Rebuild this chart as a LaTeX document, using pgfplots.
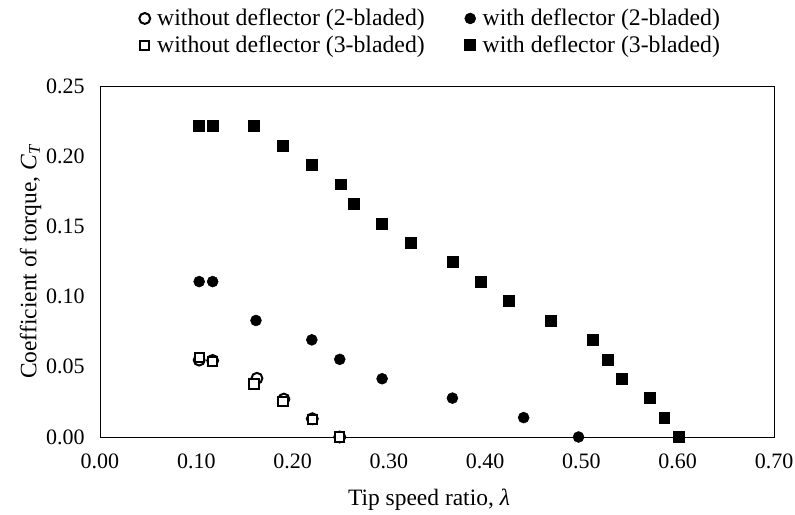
\documentclass[border=0pt]{standalone}
\usepackage{fontspec}
\setmainfont{Liberation Serif}
\usepackage{pgfplots}
\pgfplotsset{compat=1.18}

\begin{document}
\begin{tikzpicture}
% canvas of the reference (1px = 0.75pt)
\path[use as bounding box] (-75pt,-57.75pt) rectangle (521.25pt,327.75pt);
\begin{axis}[
  scale only axis,
  width=505.5pt, height=263.25pt,
  at={(0,0)}, anchor=south west,
  xmin=0, xmax=0.7, ymin=0, ymax=0.25,
  xtick={0,0.1,...,0.7}, ytick={0,0.05,...,0.25},
  major tick length=0pt,
  axis line style={black, line width=0.7pt},
  x axis line style={black!50},
  /pgf/number format/.cd, fixed, fixed zerofill, precision=2, assume math mode=true,
  /pgfplots/.cd,
  tick label style={font=\fontsize{16.5}{19}\selectfont},
  xticklabel style={yshift=-9pt},
  yticklabel style={xshift=-8pt},
  xlabel={Tip speed ratio, \textit{λ}},
  ylabel={Coefficient of torque, \textit{C}\textsubscript{\textit{T}}},
  every axis x label/.style={at={(axis description cs:0.5,0)}, anchor=center, xshift=-6pt, yshift=-47pt,
    font=\fontsize{17.6}{20}\selectfont},
  every axis y label/.style={at={(axis description cs:0,0.5)}, anchor=center, rotate=90, yshift=52pt,
    font=\fontsize{17.6}{20}\selectfont},
  legend columns=2,
  legend style={draw=none, fill=none, at={(axis description cs:0.93,1.235)}, anchor=north east,
    font=\fontsize{17.8}{20}\selectfont, row sep=2pt,
    /tikz/every even column/.append style={column sep=28pt}},
  legend cell align=left,
  legend image code/.code={\draw plot coordinates {(0.15cm,0cm)}; \path (0.4cm,0cm);},
]
% without deflector (2-bladed)
\addplot[only marks, mark=o, mark size=4.1pt, mark options={line width=1.5pt, fill=white, draw=black}] coordinates {
  (0.103,0.0548) (0.117,0.0545) (0.163,0.0418) (0.191,0.0270) (0.2205,0.0130) (0.249,0.0000)
};
\addlegendentry{without deflector (2-bladed)}
% with deflector (2-bladed)
\addplot[only marks, mark=*, mark size=4.1pt, mark options={fill=black, draw=black}] coordinates {
  (0.103,0.1107) (0.117,0.1107) (0.162,0.0830) (0.220,0.0692) (0.249,0.0553) (0.293,0.0415)
  (0.366,0.0277) (0.440,0.0138) (0.497,0.0000)
};
\addlegendentry{with deflector (2-bladed)}
% without deflector (3-bladed)
\addplot[only marks, mark=square*, mark size=3.5pt, mark options={line width=1.5pt, fill=white, draw=black}] coordinates {
  (0.103,0.0567) (0.117,0.0540) (0.160,0.0377) (0.190,0.0252) (0.2205,0.0126) (0.249,0.0000)
};
\addlegendentry{without deflector (3-bladed)}
% with deflector (3-bladed)
\addplot[only marks, mark=square*, mark size=4.1pt, mark options={fill=black, draw=black}] coordinates {
  (0.103,0.2215) (0.117,0.2215) (0.160,0.2215) (0.190,0.2076) (0.220,0.1938) (0.250,0.1800)
  (0.264,0.1661) (0.293,0.1522) (0.323,0.1384) (0.366,0.1245) (0.395,0.1107) (0.425,0.0969)
  (0.468,0.0830) (0.512,0.0692) (0.527,0.0553) (0.542,0.0415) (0.571,0.0277) (0.586,0.0138)
  (0.601,0.0000)
};
\addlegendentry{with deflector (3-bladed)}
\end{axis}
\end{tikzpicture}
\end{document}
